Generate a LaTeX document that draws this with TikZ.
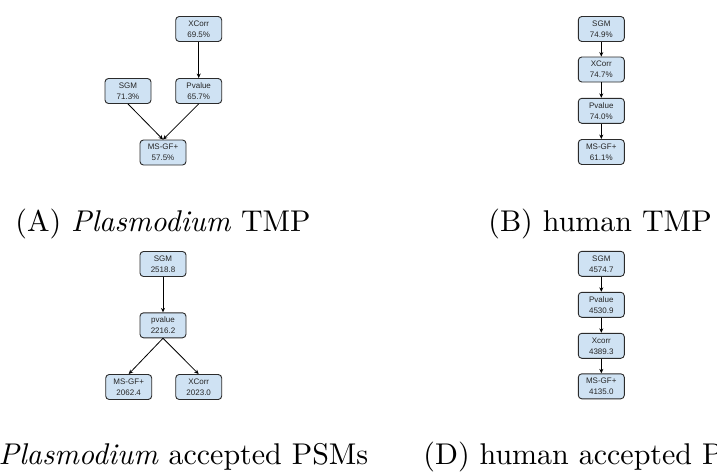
\documentclass[tikz,border=0pt]{standalone}
\usepackage{fontspec}
\newfontfamily\boxfont{Liberation Sans}
\usetikzlibrary{arrows.meta}
\definecolor{boxfill}{HTML}{CFE2F3}
\definecolor{boxline}{HTML}{2B2B2B}
\tikzset{
  stage/.style={draw=boxline, line width=0.9pt, fill=boxfill, rounded corners=3.5pt,
    minimum width=46pt, minimum height=25pt, inner sep=0pt, align=center,
    font=\boxfont\fontsize{8}{11}\selectfont, text=black!85},
  flow/.style={line width=0.8pt, -{Stealth[length=4.5pt,width=4pt]}},
  caption/.style={anchor=base, inner sep=0pt, scale=3.0}
}
\begin{document}
\begin{tikzpicture}[x=1pt,y=-1pt]
\useasboundingbox (0,0) rectangle (717,474);
\clip (0,0) rectangle (717,474);

% (A) Plasmodium TMP
\node[stage] (a1) at (198.7,29)  {XCorr\\69.5\%};
\node[stage] (a2) at (128,91)    {SGM\\71.3\%};
\node[stage] (a3) at (198.7,91)  {Pvalue\\65.7\%};
\node[stage] (a4) at (163,152.5) {MS-GF+\\57.5\%};
\draw[flow] (a1) -- (a3);
\draw[flow] (a2.south) -- (a4.north);
\draw[flow] (a3.south) -- (a4.north);

% (B) human TMP
\node[stage] (b1) at (601.3,29)    {SGM\\74.9\%};
\node[stage] (b2) at (601.3,69.5)  {XCorr\\74.7\%};
\node[stage] (b3) at (601.3,110.8) {Pvalue\\74.0\%};
\node[stage] (b4) at (601.3,152)   {MS-GF+\\61.1\%};
\draw[flow] (b1) -- (b2);
\draw[flow] (b2) -- (b3);
\draw[flow] (b3) -- (b4);

% (C) Plasmodium accepted PSMs
\node[stage] (c1) at (163,264)   {SGM\\2518.8};
\node[stage] (c2) at (163,325.3) {pvalue\\2216.2};
\node[stage] (c3) at (128.7,387) {MS-GF+\\2062.4};
\node[stage] (c4) at (198.7,387) {XCorr\\2023.0};
\draw[flow] (c1) -- (c2);
\draw[flow] (c2.south) -- (c3.north);
\draw[flow] (c2.south) -- (c4.north);

% (D) human accepted PSMs
\node[stage] (d1) at (601.3,263.8) {SGM\\4574.7};
\node[stage] (d2) at (601.3,304.8) {Pvalue\\4530.9};
\node[stage] (d3) at (601.3,345.8) {Xcorr\\4389.3};
\node[stage] (d4) at (601.3,386.3) {MS-GF+\\4135.0};
\draw[flow] (d1) -- (d2);
\draw[flow] (d2) -- (d3);
\draw[flow] (d3) -- (d4);

% sub-figure captions
\node[caption] (capA) at (163,231.5) {(A) \textit{Plasmodium} TMP};
\node[caption] (capB) at (600,231.5) {(B) human TMP};
\node[caption] (capC) at (156,464)   {(C) \textit{Plasmodium} accepted PSMs};
\node[caption] (capD) at (601,464)   {(D) human accepted PSMs};
\end{tikzpicture}
\end{document}
